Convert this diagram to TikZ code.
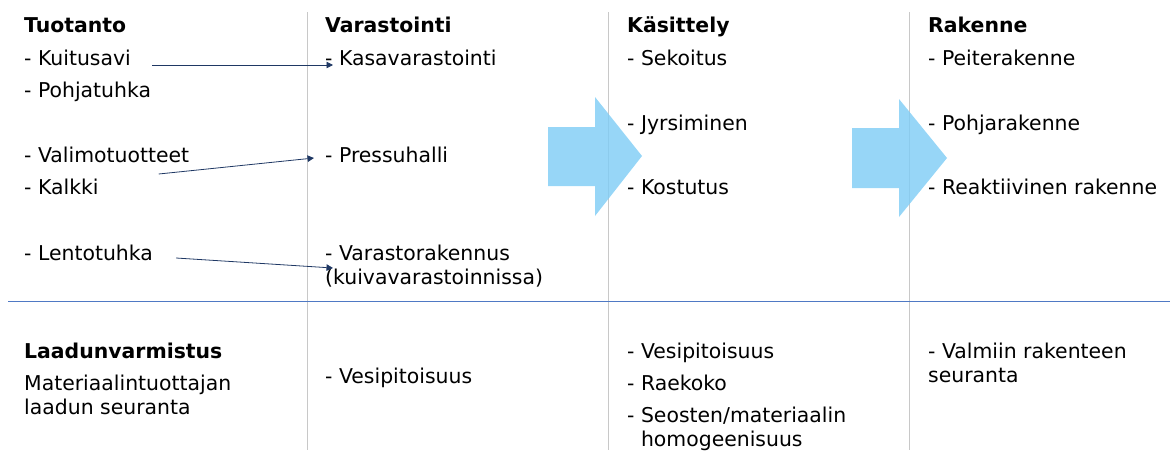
\documentclass[tikz,border=0pt]{standalone}
\usepackage{fontspec}
\setmainfont{DejaVu Sans}
\usetikzlibrary{arrows.meta, positioning}
\definecolor{arrowblue}{RGB}{125,204,245}
\definecolor{linkblue}{RGB}{31,56,100}
\definecolor{ruleblue}{RGB}{79,121,196}
\definecolor{colgray}{RGB}{200,200,200}
\newcommand\xtuo{24}
\newcommand\xvar{325}
\newcommand\xkas{627}
\newcommand\xrak{928}

\begin{document}
\begin{tikzpicture}[x=1pt, y=-1pt,
    txt/.style={anchor=base west, inner sep=0pt, font=\fontsize{20.4}{24}\selectfont, align=left},
    head/.style={txt, font=\fontsize{20.4}{24}\selectfont\bfseries},
    flow/.style={-{Triangle[length=6.5pt, width=6.5pt]}, linkblue, line width=0.8pt},
    bigarrow/.style={fill=arrowblue, fill opacity=0.8, draw=none}]

    \useasboundingbox (0, 0) rectangle (1170, 450);

    % Column rules
    \draw[colgray, line width=0.9pt] (307, 12) -- (307, 450);
    \draw[colgray, line width=0.9pt] (608, 12) -- (608, 450);
    \draw[colgray, line width=0.9pt] (909, 12) -- (909, 450);
    \draw[ruleblue, line width=1pt] (8, 301) -- (1170, 301);

    % Big arrows
    \fill[bigarrow] (548, 127) -- (595, 127) -- (595, 97) -- (642, 156)
        -- (595, 216) -- (595, 186) -- (548, 186) -- cycle;
    \fill[bigarrow] (852, 128) -- (899, 128) -- (899, 99) -- (947, 158)
        -- (899, 217) -- (899, 188) -- (852, 188) -- cycle;

    % Tuotanto
    \node at (\xtuo, 32) [head] (tuotanto) {Tuotanto};
    \node at (\xtuo, 65) [txt] (kuitusavi) {- Kuitusavi};
    \node at (\xtuo, 97) [txt] (pohjatuhka) {- Pohjatuhka};
    \node at (\xtuo, 162) [txt] (valimo) {- Valimotuotteet};
    \node at (\xtuo, 194) [txt] (kalkki) {- Kalkki};
    \node at (\xtuo, 260) [txt] (lentotuhka) {- Lentotuhka};

    % Varastointi
    \node at (\xvar, 32) [head] (varastointi) {Varastointi};
    \node at (\xvar, 65) [txt] (kasa) {- Kasavarastointi};
    \node at (\xvar, 162) [txt] (pressu) {- Pressuhalli};
    \node at (\xvar, 284) [txt] (varasto) {- Varastorakennus\\(kuivavarastoinnissa)};

    \draw[flow] ([xshift=21pt]kuitusavi.base east) -- ([xshift=8pt]kasa.base west);
    \draw[flow] ([xshift=60pt, yshift=20pt]kalkki.base east) -- ([xshift=-11pt, yshift=4pt]pressu.base west);
    \draw[flow] ([xshift=23pt, yshift=2pt]lentotuhka.base east) -- ([xshift=8pt, yshift=16pt]varasto.base west);

    % Kasittely
    \node at (\xkas, 32) [head] (kasittely) {Käsittely};
    \node at (\xkas, 65) [txt] (sekoitus) {- Sekoitus};
    \node at (\xkas, 130) [txt] (jyrsiminen) {- Jyrsiminen};
    \node at (\xkas, 194) [txt] (kostutus) {- Kostutus};

    % Rakenne
    \node at (\xrak, 32) [head] (rakenne) {Rakenne};
    \node at (\xrak, 65) [txt] (peite) {- Peiterakenne};
    \node at (\xrak, 130) [txt] (pohja) {- Pohjarakenne};
    \node at (\xrak, 194) [txt] (reakt) {- Reaktiivinen rakenne};

    % Laadunvarmistus
    \node at (\xtuo, 358) [head] (laatu) {Laadunvarmistus};
    \node at (\xtuo, 414) [txt] (seuranta) {Materiaalintuottajan\\laadun seuranta};
    \node at (\xvar, 383) [txt] (vesi1) {- Vesipitoisuus};
    \node at (\xkas, 358) [txt] (vesi2) {- Vesipitoisuus};
    \node at (\xkas, 390) [txt] (raekoko) {- Raekoko};
    \node at (\xkas, 446) [txt] (seos) {- Seosten/materiaalin\\\hphantom{- }homogeenisuus};
    \node at (\xrak, 382) [txt] (valmis) {- Valmiin rakenteen\\seuranta};

\end{tikzpicture}
\end{document}
